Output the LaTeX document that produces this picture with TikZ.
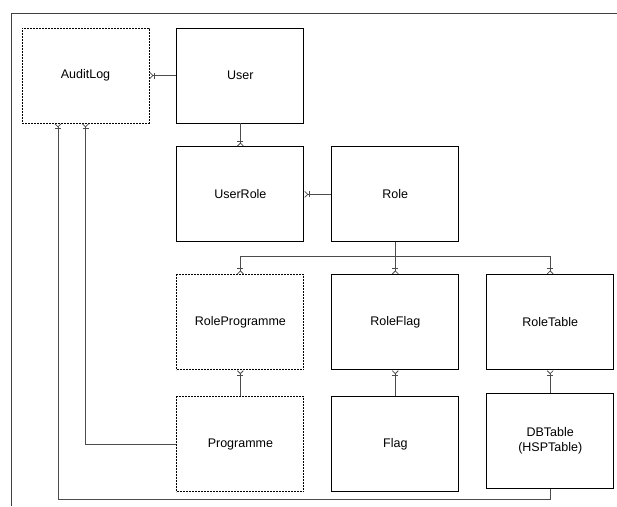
\documentclass[tikz,border=0pt]{standalone}
\usepackage{fontspec}
\setmainfont{Liberation Sans}
\usetikzlibrary{positioning,arrows.meta}

\tikzset{
  entity/.style={rectangle, draw=black, line width=0.9pt, minimum width=127pt, minimum height=95pt, text centered, align=center, font=\fontsize{12.5}{15}\selectfont},
  weak/.style={entity, dash pattern=on 2pt off 1pt},
  crow/.style={draw=black!70, line width=0.9pt, -{Bar[width=6pt,sep=1pt] Straight Barb[reversed,length=3pt,width=6pt,line width=0.8pt]}}
}

\begin{document}
\begin{tikzpicture}[x=1pt, y=1pt, node distance=25pt and 27pt]
\useasboundingbox (0,0) rectangle (617,-506);

% Рамка
\draw[black!75, line width=1pt] (617,-13) -- (11,-13) -- (11,-506);

% Верхний уровень - AuditLog и User
\node (auditlog) [weak] at (85.5,-75.5) {AuditLog};
\node (user) [entity, right=of auditlog] {User};

% Средний уровень - UserRole и Role
\node (userrole) [entity, below=23pt of user] {UserRole};
\node (role) [entity, right=of userrole] {Role};

% Связующие таблицы
\node (roleprog) [weak, below=32pt of userrole] {RoleProgramme};
\node (roleflag) [entity, right=of roleprog] {RoleFlag};
\node (roletable) [entity, right=of roleflag] {RoleTable};

% Нижний уровень
\node (programme) [weak, below=26pt of roleprog] {Programme};
\node (flag) [entity, below=26pt of roleflag] {Flag};
\node (dbtable) [entity, below=23pt of roletable] {DBTable\\(HSPTable)};

% Связи
\draw[crow] (user.west) -- (auditlog.east);
\draw[crow] (user.south) -- (userrole.north);
\draw[crow] (role.west) -- (userrole.east);

\draw[crow] (role.south) -- ++(0,-14) -| (roleprog.north);
\draw[crow] (role.south) -- (roleflag.north);
\draw[crow] (role.south) -- ++(0,-14) -| (roletable.north);

\draw[crow] (programme.north) -- (roleprog.south);
\draw[crow] (flag.north) -- (roleflag.south);
\draw[crow] (dbtable.north) -- (roletable.south);

\draw[crow] (programme.west) -| (auditlog.south);
\draw[crow] (dbtable.south) -- ++(0,-10) -| ([xshift=-27.5pt]auditlog.south);

\end{tikzpicture}
\end{document}
